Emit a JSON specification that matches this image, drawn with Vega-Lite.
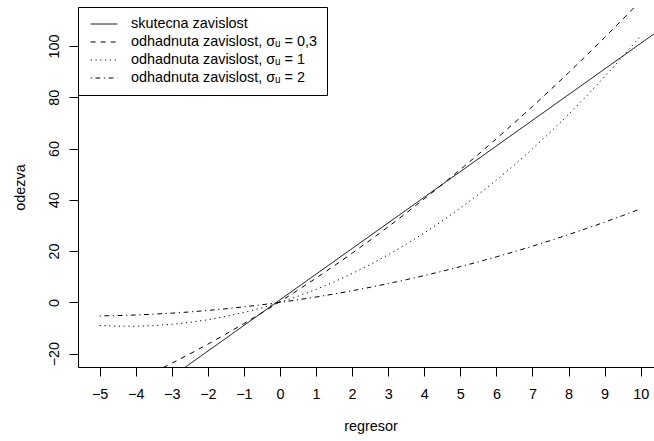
{
  "$schema": "https://vega.github.io/schema/vega-lite/v6.json",
  "autosize": "none",
  "width": 576,
  "height": 360,
  "padding": {"left": 78, "top": 7, "right": 0, "bottom": 74},
  "background": "white",
  "config": {
    "view": {"stroke": null},
    "font": "Liberation Sans",
    "axis": {
      "grid": false,
      "domainColor": "black",
      "domainWidth": 1,
      "tickColor": "black",
      "tickWidth": 1,
      "tickSize": 9,
      "labelColor": "black",
      "labelFont": "Liberation Sans",
      "labelFontSize": 14.4,
      "titleColor": "black",
      "titleFont": "Liberation Sans",
      "titleFontSize": 14.4,
      "titleFontWeight": "normal"
    },
    "legend": {
      "labelFont": "Liberation Sans",
      "labelFontSize": 14.4,
      "labelColor": "black"
    }
  },
  "layer": [
    {
      "data": {
        "values": [
          {"x": -6, "y": -59, "s": "skutecna zavislost"},
          {"x": 11, "y": 111, "s": "skutecna zavislost"},

          {"x": -5, "y": -36.9, "s": "odhadnuta zavislost, σᵤ = 0,3"},
          {"x": -4.5, "y": -33.82, "s": "odhadnuta zavislost, σᵤ = 0,3"},
          {"x": -4, "y": -30.6, "s": "odhadnuta zavislost, σᵤ = 0,3"},
          {"x": -3.5, "y": -27.24, "s": "odhadnuta zavislost, σᵤ = 0,3"},
          {"x": -3, "y": -23.74, "s": "odhadnuta zavislost, σᵤ = 0,3"},
          {"x": -2.5, "y": -20.09, "s": "odhadnuta zavislost, σᵤ = 0,3"},
          {"x": -2, "y": -16.3, "s": "odhadnuta zavislost, σᵤ = 0,3"},
          {"x": -1.5, "y": -12.36, "s": "odhadnuta zavislost, σᵤ = 0,3"},
          {"x": -1, "y": -8.28, "s": "odhadnuta zavislost, σᵤ = 0,3"},
          {"x": -0.5, "y": -4.06, "s": "odhadnuta zavislost, σᵤ = 0,3"},
          {"x": 0, "y": 0.3, "s": "odhadnuta zavislost, σᵤ = 0,3"},
          {"x": 0.5, "y": 4.81, "s": "odhadnuta zavislost, σᵤ = 0,3"},
          {"x": 1, "y": 9.46, "s": "odhadnuta zavislost, σᵤ = 0,3"},
          {"x": 1.5, "y": 14.25, "s": "odhadnuta zavislost, σᵤ = 0,3"},
          {"x": 2, "y": 19.18, "s": "odhadnuta zavislost, σᵤ = 0,3"},
          {"x": 2.5, "y": 24.26, "s": "odhadnuta zavislost, σᵤ = 0,3"},
          {"x": 3, "y": 29.48, "s": "odhadnuta zavislost, σᵤ = 0,3"},
          {"x": 3.5, "y": 34.85, "s": "odhadnuta zavislost, σᵤ = 0,3"},
          {"x": 4, "y": 40.36, "s": "odhadnuta zavislost, σᵤ = 0,3"},
          {"x": 4.5, "y": 46.01, "s": "odhadnuta zavislost, σᵤ = 0,3"},
          {"x": 5, "y": 51.8, "s": "odhadnuta zavislost, σᵤ = 0,3"},
          {"x": 5.5, "y": 57.74, "s": "odhadnuta zavislost, σᵤ = 0,3"},
          {"x": 6, "y": 63.82, "s": "odhadnuta zavislost, σᵤ = 0,3"},
          {"x": 6.5, "y": 70.04, "s": "odhadnuta zavislost, σᵤ = 0,3"},
          {"x": 7, "y": 76.4, "s": "odhadnuta zavislost, σᵤ = 0,3"},
          {"x": 7.5, "y": 82.91, "s": "odhadnuta zavislost, σᵤ = 0,3"},
          {"x": 8, "y": 89.56, "s": "odhadnuta zavislost, σᵤ = 0,3"},
          {"x": 8.5, "y": 96.36, "s": "odhadnuta zavislost, σᵤ = 0,3"},
          {"x": 9, "y": 103.3, "s": "odhadnuta zavislost, σᵤ = 0,3"},
          {"x": 9.5, "y": 110.38, "s": "odhadnuta zavislost, σᵤ = 0,3"},
          {"x": 10, "y": 117.6, "s": "odhadnuta zavislost, σᵤ = 0,3"},

          {"x": -5, "y": -9.0, "s": "odhadnuta zavislost, σᵤ = 1"},
          {"x": -4.5, "y": -9.28, "s": "odhadnuta zavislost, σᵤ = 1"},
          {"x": -4, "y": -9.3, "s": "odhadnuta zavislost, σᵤ = 1"},
          {"x": -3.5, "y": -9.06, "s": "odhadnuta zavislost, σᵤ = 1"},
          {"x": -3, "y": -8.56, "s": "odhadnuta zavislost, σᵤ = 1"},
          {"x": -2.5, "y": -7.8, "s": "odhadnuta zavislost, σᵤ = 1"},
          {"x": -2, "y": -6.78, "s": "odhadnuta zavislost, σᵤ = 1"},
          {"x": -1.5, "y": -5.49, "s": "odhadnuta zavislost, σᵤ = 1"},
          {"x": -1, "y": -3.94, "s": "odhadnuta zavislost, σᵤ = 1"},
          {"x": -0.5, "y": -2.11, "s": "odhadnuta zavislost, σᵤ = 1"},
          {"x": 0, "y": 0, "s": "odhadnuta zavislost, σᵤ = 1"},
          {"x": 0.5, "y": 2.38, "s": "odhadnuta zavislost, σᵤ = 1"},
          {"x": 1, "y": 5.05, "s": "odhadnuta zavislost, σᵤ = 1"},
          {"x": 1.5, "y": 7.99, "s": "odhadnuta zavislost, σᵤ = 1"},
          {"x": 2, "y": 11.23, "s": "odhadnuta zavislost, σᵤ = 1"},
          {"x": 2.5, "y": 14.75, "s": "odhadnuta zavislost, σᵤ = 1"},
          {"x": 3, "y": 18.56, "s": "odhadnuta zavislost, σᵤ = 1"},
          {"x": 3.5, "y": 22.67, "s": "odhadnuta zavislost, σᵤ = 1"},
          {"x": 4, "y": 27.07, "s": "odhadnuta zavislost, σᵤ = 1"},
          {"x": 4.5, "y": 31.77, "s": "odhadnuta zavislost, σᵤ = 1"},
          {"x": 5, "y": 36.77, "s": "odhadnuta zavislost, σᵤ = 1"},
          {"x": 5.5, "y": 42.08, "s": "odhadnuta zavislost, σᵤ = 1"},
          {"x": 6, "y": 47.7, "s": "odhadnuta zavislost, σᵤ = 1"},
          {"x": 6.5, "y": 53.62, "s": "odhadnuta zavislost, σᵤ = 1"},
          {"x": 7, "y": 59.86, "s": "odhadnuta zavislost, σᵤ = 1"},
          {"x": 7.5, "y": 66.41, "s": "odhadnuta zavislost, σᵤ = 1"},
          {"x": 8, "y": 73.28, "s": "odhadnuta zavislost, σᵤ = 1"},
          {"x": 8.5, "y": 80.47, "s": "odhadnuta zavislost, σᵤ = 1"},
          {"x": 9, "y": 87.99, "s": "odhadnuta zavislost, σᵤ = 1"},
          {"x": 9.5, "y": 95.83, "s": "odhadnuta zavislost, σᵤ = 1"},
          {"x": 10, "y": 104.0, "s": "odhadnuta zavislost, σᵤ = 1"},

          {"x": -5, "y": -5.28, "s": "odhadnuta zavislost, σᵤ = 2"},
          {"x": -4.5, "y": -5.14, "s": "odhadnuta zavislost, σᵤ = 2"},
          {"x": -4, "y": -4.91, "s": "odhadnuta zavislost, σᵤ = 2"},
          {"x": -3.5, "y": -4.6, "s": "odhadnuta zavislost, σᵤ = 2"},
          {"x": -3, "y": -4.2, "s": "odhadnuta zavislost, σᵤ = 2"},
          {"x": -2.5, "y": -3.72, "s": "odhadnuta zavislost, σᵤ = 2"},
          {"x": -2, "y": -3.15, "s": "odhadnuta zavislost, σᵤ = 2"},
          {"x": -1.5, "y": -2.49, "s": "odhadnuta zavislost, σᵤ = 2"},
          {"x": -1, "y": -1.75, "s": "odhadnuta zavislost, σᵤ = 2"},
          {"x": -0.5, "y": -0.92, "s": "odhadnuta zavislost, σᵤ = 2"},
          {"x": 0, "y": 0, "s": "odhadnuta zavislost, σᵤ = 2"},
          {"x": 0.5, "y": 1.0, "s": "odhadnuta zavislost, σᵤ = 2"},
          {"x": 1, "y": 2.09, "s": "odhadnuta zavislost, σᵤ = 2"},
          {"x": 1.5, "y": 3.27, "s": "odhadnuta zavislost, σᵤ = 2"},
          {"x": 2, "y": 4.53, "s": "odhadnuta zavislost, σᵤ = 2"},
          {"x": 2.5, "y": 5.88, "s": "odhadnuta zavislost, σᵤ = 2"},
          {"x": 3, "y": 7.32, "s": "odhadnuta zavislost, σᵤ = 2"},
          {"x": 3.5, "y": 8.84, "s": "odhadnuta zavislost, σᵤ = 2"},
          {"x": 4, "y": 10.45, "s": "odhadnuta zavislost, σᵤ = 2"},
          {"x": 4.5, "y": 12.14, "s": "odhadnuta zavislost, σᵤ = 2"},
          {"x": 5, "y": 13.93, "s": "odhadnuta zavislost, σᵤ = 2"},
          {"x": 5.5, "y": 15.79, "s": "odhadnuta zavislost, σᵤ = 2"},
          {"x": 6, "y": 17.75, "s": "odhadnuta zavislost, σᵤ = 2"},
          {"x": 6.5, "y": 19.79, "s": "odhadnuta zavislost, σᵤ = 2"},
          {"x": 7, "y": 21.92, "s": "odhadnuta zavislost, σᵤ = 2"},
          {"x": 7.5, "y": 24.13, "s": "odhadnuta zavislost, σᵤ = 2"},
          {"x": 8, "y": 26.43, "s": "odhadnuta zavislost, σᵤ = 2"},
          {"x": 8.5, "y": 28.82, "s": "odhadnuta zavislost, σᵤ = 2"},
          {"x": 9, "y": 31.29, "s": "odhadnuta zavislost, σᵤ = 2"},
          {"x": 9.5, "y": 33.85, "s": "odhadnuta zavislost, σᵤ = 2"},
          {"x": 10, "y": 36.5, "s": "odhadnuta zavislost, σᵤ = 2"}
        ]
      },
      "mark": {"type": "line", "clip": true, "color": "black", "strokeWidth": 1},
      "encoding": {
        "x": {
          "field": "x",
          "type": "quantitative",
          "scale": {"domain": [-5.6, 10.37], "nice": false, "zero": false},
          "axis": {
            "values": [-5, -4, -3, -2, -1, 0, 1, 2, 3, 4, 5, 6, 7, 8, 9, 10],
            "labelPadding": 22,
            "labelBaseline": "alphabetic",
            "labelFlush": false,
            "labelOverlap": false,
            "title": "regresor",
            "titleX": 292.5,
            "titleY": 63,
            "titleAlign": "center",
            "titleBaseline": "alphabetic"
          }
        },
        "y": {
          "field": "y",
          "type": "quantitative",
          "scale": {"domain": [-25.2, 115.2], "nice": false, "zero": false},
          "axis": {
            "values": [-20, 0, 20, 40, 60, 80, 100],
            "labelAngle": 270,
            "labelAlign": "center",
            "labelBaseline": "alphabetic",
            "labelPadding": 11,
            "labelFlush": false,
            "labelOverlap": false,
            "title": "odezva",
            "titleAngle": 270,
            "titleX": -53.5,
            "titleY": 180,
            "titleAlign": "center",
            "titleBaseline": "alphabetic"
          }
        },
        "strokeDash": {
          "field": "s",
          "type": "nominal",
          "scale": {
            "domain": [
              "skutecna zavislost",
              "odhadnuta zavislost, σᵤ = 0,3",
              "odhadnuta zavislost, σᵤ = 1",
              "odhadnuta zavislost, σᵤ = 2"
            ],
            "range": [[1, 0], [5, 5], [1.2, 3.6], [1.2, 3.6, 4.8, 3.6]]
          },
          "legend": {
            "title": null,
            "orient": "top-left",
            "offset": 0,
            "padding": 10,
            "strokeColor": "black",
            "fillColor": "white",
            "cornerRadius": 0,
            "symbolType": "stroke",
            "symbolSize": 713,
            "symbolOffset": 2,
            "symbolStrokeColor": "black",
            "symbolStrokeWidth": 1,
            "labelOffset": 13,
            "clipHeight": 14,
            "rowPadding": 3,
            "labelLimit": 400
          }
        }
      }
    },
    {
      "mark": {"type": "rule", "color": "black", "strokeWidth": 1},
      "encoding": {
        "y": {
          "datum": 115.2,
          "type": "quantitative",
          "scale": {"domain": [-25.2, 115.2], "nice": false, "zero": false}
        }
      }
    }
  ]
}
